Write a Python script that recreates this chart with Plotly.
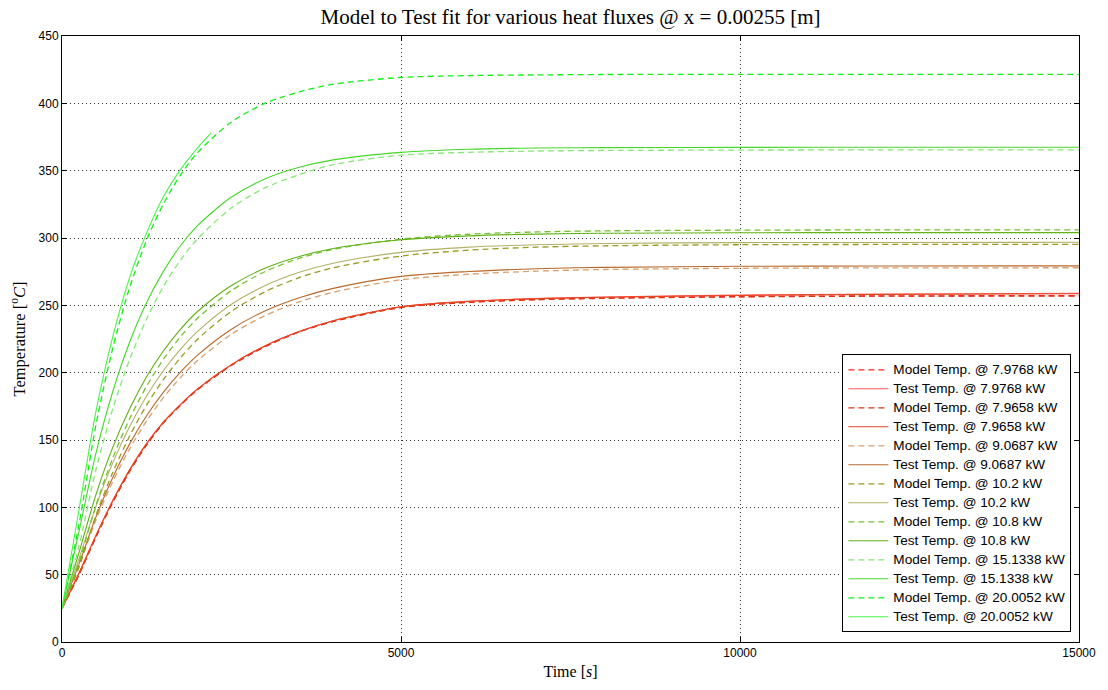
import plotly.graph_objects as go

# sample times [s]
t_s = [0, 250, 500, 750, 1000, 1250, 1500, 1750, 2000, 2500, 3000, 3500, 4000,
       5000, 6000, 7000, 8000, 10000, 12000, 15000]
t_test20 = [0, 250, 500, 750, 1000, 1250, 1500, 1750, 2000, 2200]

x_ticks = [0, 5000, 10000, 15000]
x_ticklabels = ["0", "5000", "10000", "15000"]

model_79768 = [25, 50, 78, 104, 127, 146.5, 163, 176, 187.5, 205.5, 219.5, 230.3, 238, 248.5, 252.3, 254.3, 255.4, 256.5, 257, 257.2]
test_79768 = [25, 51, 79, 105, 128, 147.5, 163.5, 176.5, 188, 206, 220, 230.5, 238.5, 249, 253, 255, 256.2, 257.6, 258.4, 259]
model_79658 = [25, 50, 78, 104, 127, 146.5, 163, 176, 187.5, 205.5, 219.5, 230.3, 238, 248.4, 252.2, 254.2, 255.2, 256.3, 256.8, 256.9]
test_79658 = [25, 51, 79, 105, 128, 147.5, 163.5, 176.5, 188, 206, 220, 230.5, 238.5, 249, 253, 255, 256, 257.3, 258.1, 258.6]
model_90687 = [25, 56.6, 90.5, 119.3, 143.6, 164.3, 181.8, 196.5, 209, 228.6, 242.5, 252.6, 259.7, 269, 273.1, 275.4, 276.6, 277.5, 277.8, 277.9]
test_90687 = [25, 57.8, 92.8, 122.4, 147.3, 168.2, 185.7, 200.5, 213, 232.3, 246, 255.7, 262.6, 271.5, 275.1, 277.2, 278.2, 279, 279.2, 279.3]
model_102 = [25, 55.3, 93.9, 126.1, 153.1, 176.1, 195.2, 211.2, 224.8, 245.6, 260.2, 270.6, 277.9, 286.6, 291, 293.2, 294.2, 295, 295.2, 295.3]
test_102 = [25, 61.7, 100.6, 133.2, 160.2, 182.9, 201.8, 217.5, 230.6, 250.8, 264.7, 274.5, 281.3, 289.3, 293.2, 295, 295.9, 296.6, 296.7, 296.8]
model_108 = [25, 59, 101.4, 136.8, 166, 190.2, 210.2, 226.8, 240.4, 261, 275.2, 284.9, 291.6, 299.2, 302.8, 304.5, 305.3, 305.8, 306, 306]
test_108 = [25, 66.3, 109.3, 144.7, 173.4, 197.1, 216.5, 232.4, 245.4, 264.7, 277.7, 286.3, 292.2, 298.7, 301.6, 302.9, 303.5, 303.9, 304, 304]
model_151338 = [25, 71, 127.8, 173.4, 210.2, 240.1, 264.3, 283.7, 299.4, 322.4, 337.4, 347.1, 354.5, 361.5, 363.6, 364.6, 365, 365.3, 365.4, 365.4]
test_151338 = [25, 81.9, 140, 186.2, 223, 252.3, 275.6, 294.4, 309.2, 330.4, 344, 352.5, 358, 363.6, 365.9, 366.8, 367.1, 367.3, 367.4, 367.4]
model_200052 = [25, 87, 161, 218.5, 263.5, 298.6, 325.7, 346.9, 363.4, 386.2, 400.1, 408.5, 414.2, 419.2, 420.6, 421.1, 421.4, 421.5, 421.5, 421.5]
test_200052 = [25, 98, 171, 227, 271, 304, 331, 351, 367, 378]

series = [
    ("Model Temp. @ 7.9768 kW", t_s, model_79768, "#ff2424", True),
    ("Test Temp. @ 7.9768 kW", t_s, test_79768, "#ff5656", False),
    ("Model Temp. @ 7.9658 kW", t_s, model_79658, "#dd3311", True),
    ("Test Temp. @ 7.9658 kW", t_s, test_79658, "#e8441e", False),
    ("Model Temp. @ 9.0687 kW", t_s, model_90687, "#d8a070", True),
    ("Test Temp. @ 9.0687 kW", t_s, test_90687, "#b8682a", False),
    ("Model Temp. @ 10.2 kW", t_s, model_102, "#9a9a20", True),
    ("Test Temp. @ 10.2 kW", t_s, test_102, "#b4b068", False),
    ("Model Temp. @ 10.8 kW", t_s, model_108, "#74c030", True),
    ("Test Temp. @ 10.8 kW", t_s, test_108, "#5eb012", False),
    ("Model Temp. @ 15.1338 kW", t_s, model_151338, "#84e874", True),
    ("Test Temp. @ 15.1338 kW", t_s, test_151338, "#44d828", False),
    ("Model Temp. @ 20.0052 kW", t_s, model_200052, "#12ee12", True),
    ("Test Temp. @ 20.0052 kW", t_test20, test_200052, "#48f448", False),
]

fig = go.Figure()
for name, xs, ys, col, dashed in series:
    fig.add_trace(go.Scatter(
        x=xs, y=ys, mode="lines",
        name='<span style="font-size:13.6px">' + name + '</span>',
        line=dict(color=col, width=1.3 if dashed else 1.1,
                  dash="6px,4px" if dashed else "solid",
                  shape="spline", smoothing=0.8),
    ))

axis_common = dict(
    showline=True, linecolor="black", linewidth=1, mirror="ticks",
    ticks="inside", ticklen=5, tickcolor="black",
    showgrid=True, gridcolor="#333333", griddash="1px,3px", gridwidth=1,
    zeroline=False,
    tickfont=dict(family="Liberation Sans, Arial, sans-serif", size=12, color="black"),
)

fig.update_layout(
    width=1108, height=690,
    margin=dict(l=62, r=28, t=36, b=44),
    paper_bgcolor="white", plot_bgcolor="white",
    title=dict(text="Model to Test fit for various heat fluxes @ x = 0.00255 [m]",
               xref="paper", x=0.5, xanchor="center", y=0.976, yanchor="middle",
               font=dict(family="Liberation Serif, Times New Roman, serif", size=21, color="black")),
    xaxis=dict(range=[0, 15000], tickvals=x_ticks, ticktext=x_ticklabels,
               title=dict(text="Time [<i>s</i>]", standoff=6,
                          font=dict(family="Liberation Serif, serif", size=16, color="black")),
               **axis_common),
    yaxis=dict(range=[0, 450], dtick=50,
               title=dict(text="Temperature [<sup>o</sup><i>C</i>]", standoff=8,
                          font=dict(family="Liberation Serif, serif", size=16.5, color="black")),
               **axis_common),
    legend=dict(x=0.9925, xanchor="right", y=0.016, yanchor="bottom",
                bgcolor="white", bordercolor="black", borderwidth=1,
                font=dict(family="Liberation Sans, Arial, sans-serif", size=10.6, color="black"),
                tracegroupgap=0, itemwidth=40),
    showlegend=True,
)

fig.write_html("out.html")
